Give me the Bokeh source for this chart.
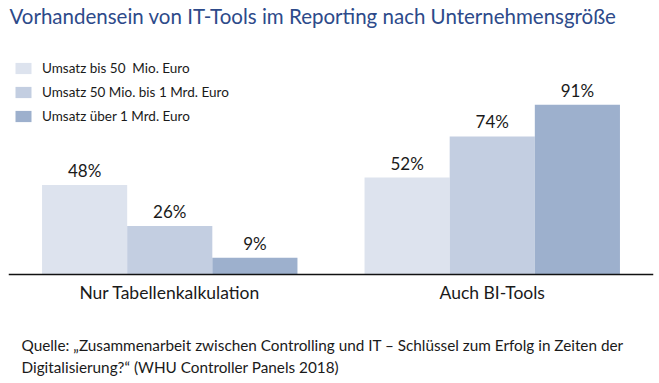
from bokeh.plotting import figure
from bokeh.models import ColumnDataSource, FactorRange, Range1d, Legend, LegendItem, Label, Span
from bokeh.transform import dodge
from bokeh.core.properties import value
from bokeh.embed import file_html
from bokeh.resources import INLINE

# ---- data ----
categories = ["Nur Tabellenkalkulation", "Auch BI-Tools"]
series_names = ["Umsatz bis 50  Mio. Euro", "Umsatz 50 Mio. bis 1 Mrd. Euro", "Umsatz über 1 Mrd. Euro"]
umsatz_bis_50_mio = [48, 52]
umsatz_50_mio_bis_1_mrd = [26, 74]
umsatz_ueber_1_mrd = [9, 91]

title_text = "Vorhandensein von IT-Tools im Reporting nach Unternehmensgröße"
source_line1 = "Quelle: „Zusammenarbeit zwischen Controlling und IT – Schlüssel zum Erfolg in Zeiten der"
source_line2 = "Digitalisierung?“ (WHU Controller Panels 2018)"

series_values = [umsatz_bis_50_mio, umsatz_50_mio_bis_1_mrd, umsatz_ueber_1_mrd]
colors = ["#DDE3EE", "#C3CEE1", "#9DB0CD"]
FONT = "Lato"
TXT = "#1a1a1a"

data = {"cat": categories, "base": [0] * len(categories)}
for i, vals in enumerate(series_values):
    data[f"s{i}"] = vals
    data[f"l{i}"] = [f"{v}%" for v in vals]
source = ColumnDataSource(data)

p = figure(
    width=659, height=383,
    x_range=FactorRange(*categories, range_padding=0),
    y_range=Range1d(-58.45, 146.92),
    output_backend="svg", toolbar_location=None,
    min_border_left=8, min_border_right=6, min_border_top=0, min_border_bottom=0,
)
p.outline_line_color = None
p.xgrid.visible = False
p.ygrid.visible = False
p.xaxis.visible = False
p.yaxis.visible = False

bw = 0.264
offsets = [-bw, 0.0, bw]
renderers = []
for i in range(3):
    r = p.vbar(x=dodge("cat", offsets[i], range=p.x_range), top=f"s{i}", bottom="base", width=bw,
               source=source, fill_color=colors[i], line_color=None)
    renderers.append(r)
    p.text(x=dodge("cat", offsets[i], range=p.x_range), y=f"s{i}", text=f"l{i}",
           source=source, text_align="center", text_baseline="bottom", y_offset=-4,
           text_font=value(FONT), text_font_size="17px", text_color=TXT)

# baseline (x axis line)
p.add_layout(Span(location=0, dimension="width", line_color="#111111", line_width=1.5))

# category labels
p.text(x="cat", y="base", text="cat", source=source, text_align="center",
       text_baseline="middle", y_offset=18,
       text_font=value(FONT), text_font_size="17.5px", text_color=TXT)

legend = Legend(
    items=[LegendItem(label=series_names[i], renderers=[renderers[i]]) for i in range(3)],
    location=(5, 259),
    orientation="vertical",
    glyph_width=20, glyph_height=14, label_height=14,
    label_standoff=9, spacing=8, padding=0, margin=0,
    label_text_font=FONT, label_text_font_size="13.5px", label_text_color=TXT,
    border_line_color=None, background_fill_alpha=0,
)
p.add_layout(legend)

p.add_layout(Label(x=1, y=368, x_units="screen", y_units="screen", text=title_text,
                   text_font=FONT, text_font_size="20.5px", text_color="#2D4A8A",
                   text_baseline="middle"))
p.add_layout(Label(x=13, y=39, x_units="screen", y_units="screen", text=source_line1,
                   text_font=FONT, text_font_size="15.3px", text_color=TXT,
                   text_baseline="middle"))
p.add_layout(Label(x=13, y=17, x_units="screen", y_units="screen", text=source_line2,
                   text_font=FONT, text_font_size="15.3px", text_color=TXT,
                   text_baseline="middle"))

open("out.html", "w").write(file_html(p, INLINE))
